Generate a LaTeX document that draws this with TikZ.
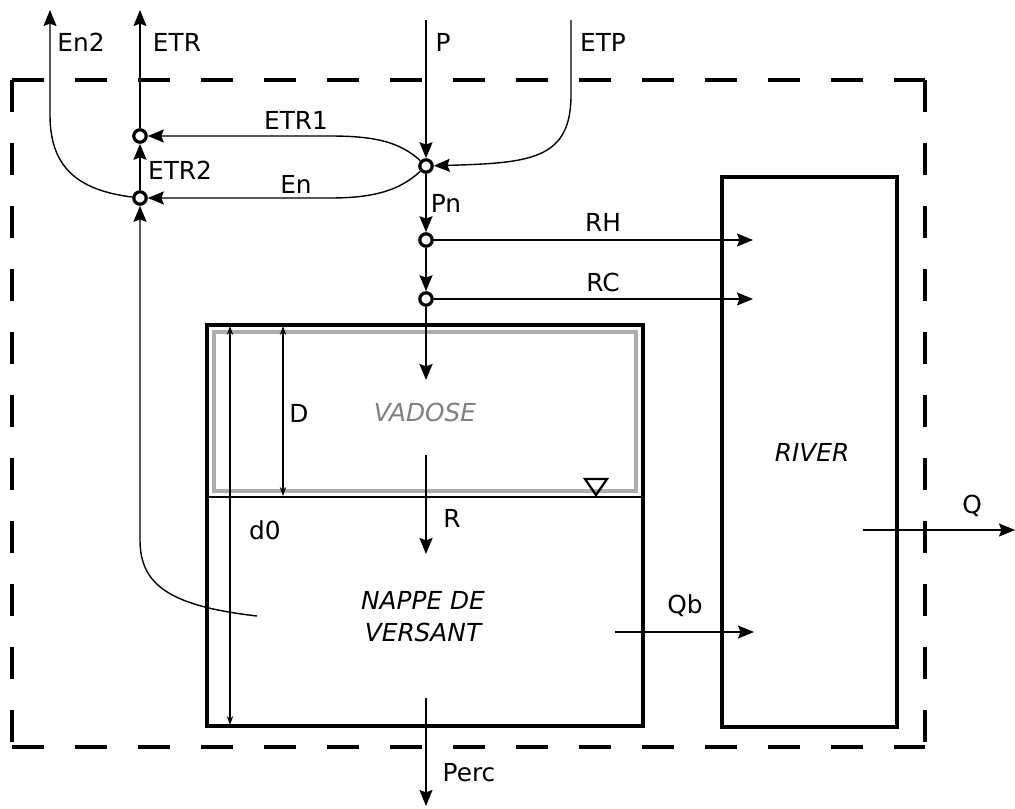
\documentclass[tikz,border=0pt]{standalone}
\usepackage{fontspec}
\setmainfont{DejaVu Sans}
\usetikzlibrary{arrows.meta}
\begin{document}
\begin{tikzpicture}[x=0.5pt,y=-0.5pt,
  every node/.style={font=\fontsize{12.4}{14}\selectfont, inner sep=0pt},
  lbl/.style={anchor=center},
  circ/.style={circle,draw,line width=1.6pt,minimum size=6.2pt,inner sep=0pt,fill=white},
  flow/.style={line width=0.7pt,-{Stealth[length=8pt,width=6.5pt,inset=1.2pt]}},
  thickflow/.style={line width=1.1pt,-{Stealth[length=8pt,width=6.5pt,inset=1.2pt]}},
  dim/.style={line width=0.6pt,{Stealth[length=4.5pt,width=3.2pt]}-{Stealth[length=4.5pt,width=3.2pt]}},
  box/.style={draw,line width=1.8pt},
  border/.style={draw,line width=2pt,dash pattern=on 16pt off 15.5pt}
]
\useasboundingbox (0,0) rectangle (1015,808);

% dashed catchment border
\draw[border] (12,80) -- (925,80);
\draw[border] (12,80) -- (12,747);
\draw[border] (925,80) -- (925,747);
\draw[border] (12,747) -- (925,747);

% boxes
\draw[gray!65,line width=1.8pt] (214,332) rectangle (636,491);
\draw[line width=0.7pt] (207,497) -- (643,497);
\draw[box] (207,325) rectangle (643,726);
\draw[box] (722,177) rectangle (897,727);
\draw[line width=1.1pt] (585,479) -- (607,479) -- (596,495) -- cycle;

% junction nodes
\node[circ] (e1) at (140,136) {};
\node[circ] (e2) at (140,198) {};
\node[circ] (pn) at (426,166) {};
\node[circ] (rh) at (426,240) {};
\node[circ] (rc) at (426,299) {};

% free ends
\coordinate (Ptop) at (426,20);
\coordinate (ETPtop) at (571,20);
\coordinate (ETRtop) at (140,10);
\coordinate (En2top) at (50,10);
\coordinate (ns) at (257,616);
\coordinate (rhend) at (753,240);
\coordinate (rcend) at (753,299);
\coordinate (vin) at (426,380);
\coordinate (rs) at (426,455);
\coordinate (re) at (426,554);
\coordinate (qbs) at (615,632);
\coordinate (qbe) at (754,632);
\coordinate (qs) at (863,530);
\coordinate (qe) at (1015,530);
\coordinate (ps) at (426,698);
\coordinate (pe) at (426,806);

% connectors
\draw[flow] (Ptop) -- (pn);
\draw[flow] (ETPtop) -- (571,95) .. controls (571,160) and (530,163) .. (pn);
\draw[flow] (pn) .. controls (400,142) and (375,136) .. (330,136) -- (e1);
\draw[flow] (pn) .. controls (400,190) and (375,198) .. (330,198) -- (e2);
\draw[flow] (e1) -- (ETRtop);
\draw[flow] (e2) -- (e1);
\draw[flow] (e2) .. controls (75,190) and (50,165) .. (50,115) -- (En2top);
\draw[flow] (ns) .. controls (170,606) and (140,585) .. (140,540) -- (e2);
\draw[flow] (pn) -- (rh);
\draw[flow] (rh) -- (rc);
\draw[flow] (rh) -- (rhend);
\draw[flow] (rc) -- (rcend);
\draw[thickflow] (rc) -- (vin);
\draw[thickflow] (rs) -- (re);
\draw[flow] (qbs) -- (qbe);
\draw[flow] (qs) -- (qe);
\draw[flow] (ps) -- (pe);

% dimensions
\draw[dim] (230,326) -- (230,725);
\draw[dim,line width=1pt] (283,326) -- (283,496);

% labels
\node[lbl] at (81,42) {En2};
\node[lbl] at (177,42) {ETR};
\node[lbl] at (443,42) {P};
\node[lbl] at (603,42) {ETP};
\node[lbl] at (296,120) {ETR1};
\node[lbl] at (180,170) {ETR2};
\node[lbl] at (296,184) {En};
\node[lbl] at (446,203) {Pn};
\node[lbl] at (603,222) {RH};
\node[lbl] at (603,282) {RC};
\node[lbl] at (299,413) {D};
\node[lbl] at (265,530) {d0};
\node[lbl] at (452,518) {R};
\node[lbl,text=gray] at (425,412) {\itshape VADOSE};
\node[lbl,align=center] at (423,617) {\itshape NAPPE DE\\[2pt]\itshape VERSANT};
\node[lbl] at (812,452) {\itshape RIVER};
\node[lbl] at (685,606) {Qb};
\node[lbl] at (972,506) {Q};
\node[lbl] at (469,773) {Perc};
\end{tikzpicture}
\end{document}
